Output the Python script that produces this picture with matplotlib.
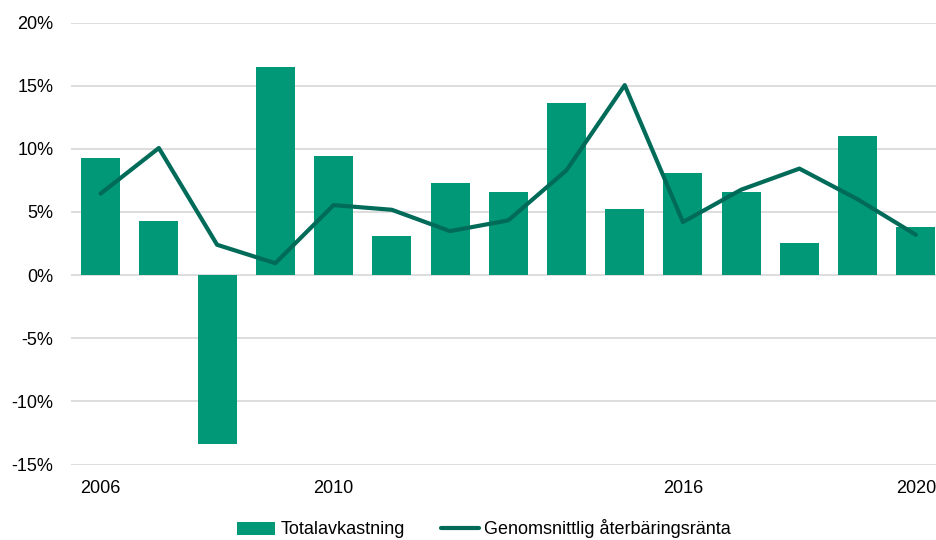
import matplotlib
matplotlib.use("Agg")
import matplotlib.pyplot as plt
import numpy as np
from matplotlib.ticker import FuncFormatter

years = [str(y) for y in range(2006, 2021)]
tick_years = ["2006", "2010", "2016", "2020"]
totalavkastning = [9.3, 4.3, -13.4, 16.5, 9.4, 3.1, 7.3, 6.6, 13.6, 5.2, 8.1, 6.6, 2.55, 11.0, 3.8]
aterbaringsranta = [6.45, 10.06, 2.4, 0.94, 5.54, 5.17, 3.48, 4.33, 8.3, 15.04, 4.2, 6.76, 8.43, 6.0, 3.19]

plt.rcParams['font.family'] = ['Liberation Sans', 'DejaVu Sans']

fig = plt.figure(figsize=(9.37, 5.40), dpi=100)
ax = fig.add_axes([71.5/937, 75.5/540, 873.5/937, 442/540])

x = np.arange(len(years))
bar_color = "#009877"
line_color = "#006B58"

bars = ax.bar(x, [v/100 for v in totalavkastning], width=0.67, color=bar_color, zorder=2, label="Totalavkastning")
line, = ax.plot(x, [v/100 for v in aterbaringsranta], color=line_color, lw=3, zorder=3,
                label="Genomsnittlig återbäringsränta", solid_capstyle='round')

ax.set_xlim(-0.5, len(years) - 0.5)
ax.set_ylim(-0.15, 0.20)
ax.set_yticks(np.arange(-0.15, 0.201, 0.05))
ax.yaxis.set_major_formatter(FuncFormatter(lambda v, p: f"{round(v*100):d}%"))
ax.set_xticks([years.index(t) for t in tick_years])
ax.set_xticklabels(tick_years)
ax.grid(axis='y', color='#DADADA', lw=1.3, zorder=0)
ax.set_axisbelow(True)
for s in ax.spines.values():
    s.set_visible(False)
ax.tick_params(axis='both', length=0, labelsize=13, colors='#000000')
ax.tick_params(axis='y', pad=13)
ax.tick_params(axis='x', pad=11)

fig.legend(handles=[bars, line], labels=["Totalavkastning", "Genomsnittlig återbäringsränta"],
           loc='center', bbox_to_anchor=(484/937, 11/540), ncol=2, frameon=False,
           fontsize=13, handlelength=2.1, handletextpad=0.3, columnspacing=2.0)

fig.savefig("out.png", dpi=100)
